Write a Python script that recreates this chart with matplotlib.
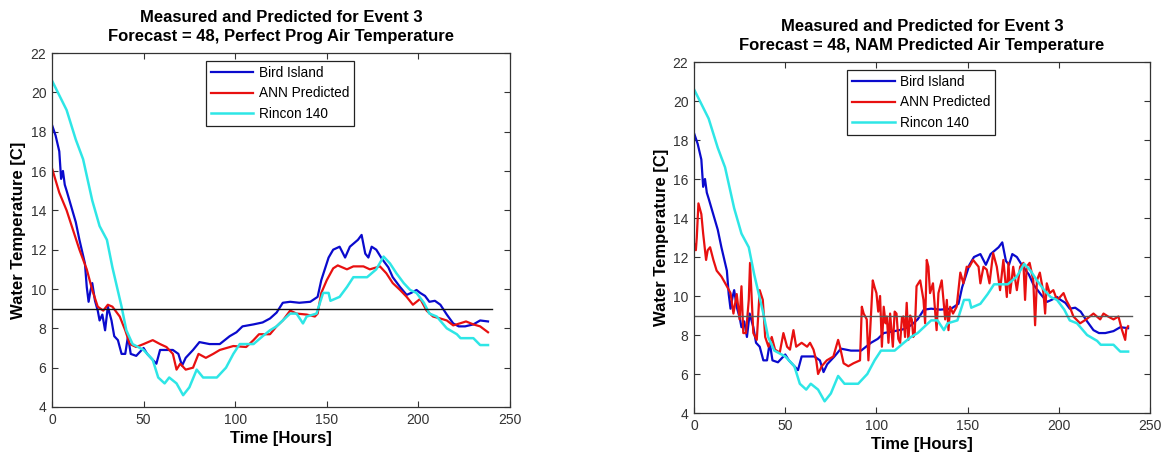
import matplotlib
matplotlib.use("Agg")
import matplotlib.pyplot as plt

plt.rcParams['font.family'] = ['Liberation Sans', 'DejaVu Sans']

# ---- Bird Island (measured) ----
bird_t = [0, 2, 4, 5, 6, 7, 8, 10.5, 13, 15, 18, 19, 20, 21, 22, 23.5, 25, 26, 27.5, 29,
          30.5, 32.5, 34, 36, 38, 40, 41.5, 43, 46, 50, 52, 55, 57, 59, 62.5, 66, 69, 71,
          73, 77, 80.5, 86, 91.6, 97, 100.7, 104, 110, 115, 119, 122.6, 126, 130, 135, 141,
          145, 147, 151, 153.5, 157, 160, 162.6, 167, 169, 171, 172.7, 174.5, 177, 180,
          183.6, 186, 190, 193.6, 196, 199, 201, 203.6, 206, 209, 212, 215.5, 219, 222,
          225.5, 230, 233.7, 238]
bird_v = [18.35, 17.8, 17.0, 15.6, 16.0, 15.3, 15.0, 14.2, 13.4, 12.5, 11.3, 10.1, 9.35,
          9.9, 10.3, 9.4, 8.9, 8.4, 8.7, 7.9, 9.1, 8.4, 7.6, 7.4, 6.7, 6.7, 7.6, 6.7, 6.6,
          7.0, 6.7, 6.4, 6.2, 6.9, 6.9, 6.9, 6.7, 6.1, 6.5, 6.9, 7.3, 7.2, 7.2, 7.6, 7.8,
          8.1, 8.2, 8.3, 8.5, 8.8, 9.3, 9.35, 9.3, 9.35, 9.6, 10.45, 11.6, 12.0, 12.15, 11.6,
          12.15, 12.5, 12.75, 11.8, 11.6, 12.15, 12.0, 11.55, 11.1, 10.6, 10.1, 9.7, 9.8,
          9.95, 9.8, 9.65, 9.35, 9.4, 9.2, 8.7, 8.25, 8.1, 8.1, 8.2, 8.4, 8.35]

# ---- Rincon 140 ----
rincon_t = [0, 8, 13, 17, 22, 26, 30, 33, 38, 40.6, 44, 50, 55, 58, 61.5, 64, 68, 71.6,
            75, 79, 82.5, 90, 95, 99, 102.5, 110, 115, 119, 122.6, 126, 130, 133.5, 137,
            139, 144.4, 148, 151, 152, 157, 161, 164.5, 172, 177, 181, 184.5, 188, 192,
            195.5, 199, 203, 206, 210, 215.5, 221, 223, 230, 233.7, 238]
rincon_v = [20.6, 19.1, 17.6, 16.6, 14.5, 13.2, 12.5, 11.1, 9.1, 7.9, 7.2, 6.9, 6.4, 5.5,
            5.2, 5.5, 5.2, 4.6, 5.0, 5.9, 5.5, 5.5, 6.0, 6.7, 7.2, 7.2, 7.6, 7.9, 8.1, 8.4,
            8.75, 8.75, 8.25, 8.6, 8.75, 9.8, 9.8, 9.4, 9.6, 10.1, 10.6, 10.6, 11.0, 11.65,
            11.3, 10.8, 10.3, 9.95, 9.8, 9.3, 8.75, 8.6, 8.0, 7.7, 7.5, 7.5, 7.15, 7.15]

# ---- ANN predicted, perfect-prog air temperature ----
pp_t = [0, 4, 8, 11.5, 15, 19, 22, 25, 28, 30.5, 33, 37, 40, 42.5, 46, 50, 55, 59, 62.5,
        66, 68, 70, 73, 77, 80, 84, 88, 91.6, 99, 106, 110, 113, 119, 122.6, 126, 130,
        133.5, 139, 143.5, 145, 147, 150, 153.5, 156, 161, 164.5, 170, 173.5, 179, 182.5,
        186, 190, 193.6, 197, 201, 204.5, 208, 212, 215.5, 219, 222.6, 226, 230, 233.7, 238]
pp_v = [16.15, 14.9, 14.0, 13.0, 12.0, 11.0, 9.95, 9.1, 8.9, 9.2, 9.1, 8.6, 7.9, 7.2, 7.05,
        7.2, 7.4, 7.2, 7.05, 6.7, 5.9, 6.2, 5.9, 6.0, 6.7, 6.5, 6.7, 6.9, 7.1, 7.05, 7.4,
        7.7, 7.7, 8.1, 8.4, 8.9, 8.75, 8.7, 8.6, 8.75, 9.8, 10.45, 11.05, 11.2, 11.0, 11.15,
        11.15, 11.0, 11.15, 10.8, 10.3, 9.95, 9.6, 9.2, 9.5, 8.9, 8.6, 8.5, 8.4, 8.15, 8.25,
        8.35, 8.2, 8.1, 7.8]

# ---- ANN predicted, NAM forecast air temperature ----
nam_t = [0, 1, 1.5, 2.4, 4, 5, 6.6, 7.5, 8.8, 10.6, 12.4, 15, 18, 20, 21.6, 23.4, 25, 26,
         27, 28.5, 30, 30.7, 32.5, 34.4, 36, 37.7, 39, 40.8, 42.6, 44.4, 47, 49, 51, 52.6,
         54.5, 56, 59, 62, 63.6, 65.5, 67, 68, 70, 72.8, 76.4, 79, 80, 82, 84.6, 87.4, 91,
         92, 93, 94.7, 95.6, 96.5, 98, 99, 100, 101, 102, 103, 104, 105, 105.7, 106.6,
         107.5, 108.3, 109, 110, 111, 112, 113, 114, 114.8, 115.7, 116.6, 117.5, 118.5,
         119.4, 120.2, 121, 122, 124, 125.8, 126.7, 127.6, 128.5, 129.4, 131, 133, 134,
         135.8, 137.7, 138.6, 139.5, 140.4, 142, 144, 146, 147.7, 149.5, 151, 153, 156, 157,
         158.7, 160.5, 162, 164, 166, 167.8, 169.6, 171.5, 172.4, 173.3, 175, 177, 178.8,
         180.6, 181.5, 182.4, 184, 186, 187, 188, 189.6, 191.6, 192.5, 193.4, 195, 197, 199,
         200.7, 202.6, 204, 206, 208, 211.7, 215, 219, 222.7, 224.5, 227, 230, 232.7, 234.5,
         236.4, 237, 238]
nam_v = [12.7, 12.35, 13.0, 14.75, 14.2, 13.2, 11.85, 12.35, 12.5, 11.85, 11.3, 11.0, 10.5,
         10.15, 9.1, 10.1, 8.8, 10.5, 8.1, 8.1, 9.8, 11.7, 8.1, 7.75, 10.3, 9.8, 7.9, 7.4,
         7.9, 7.25, 7.1, 8.1, 7.4, 7.25, 8.25, 7.4, 7.6, 7.4, 7.6, 7.25, 6.7, 6.0, 6.4, 6.7,
         6.9, 7.75, 7.4, 6.55, 6.4, 6.55, 6.7, 9.45, 9.1, 8.8, 6.7, 8.1, 10.8, 10.45, 10.15,
         9.2, 10.0, 7.4, 9.45, 8.6, 8.95, 7.6, 9.1, 8.2, 7.4, 9.2, 9.1, 7.8, 7.6, 8.9, 8.95,
         7.9, 9.65, 7.75, 9.0, 8.8, 7.9, 8.1, 10.5, 10.8, 9.8, 8.6, 11.85, 11.5, 10.15,
         10.65, 8.25, 10.15, 10.8, 8.8, 9.8, 8.25, 9.45, 9.1, 9.45, 11.2, 10.65, 11.5, 11.5,
         11.85, 11.5, 10.65, 11.5, 11.35, 10.65, 12.2, 11.5, 10.3, 11.85, 9.95, 11.7, 10.15,
         11.5, 10.3, 11.5, 11.7, 9.8, 11.5, 11.7, 10.8, 8.5, 10.8, 11.2, 10.15, 9.1, 10.65,
         10.15, 10.3, 9.8, 9.95, 10.15, 9.8, 9.45, 8.95, 8.6, 8.8, 9.1, 8.8, 9.1, 8.95, 8.8,
         8.95, 8.3, 7.75, 8.3, 8.45]

threshold = 9.0
x_ticks = [0, 50, 100, 150, 200, 250]
y_ticks = [4, 6, 8, 10, 12, 14, 16, 18, 20, 22]

titles = ["Measured and Predicted for Event 3\nForecast = 48, Perfect Prog Air Temperature",
          "Measured and Predicted for Event 3\nForecast = 48, NAM Predicted Air Temperature"]
legend_labels = ["Bird Island", "ANN Predicted", "Rincon 140"]

BLUE = "#0a0acd"
RED = "#e81010"
CYAN = "#2ee6e6"

fig = plt.figure(figsize=(11.7, 4.55), dpi=100)
ax_left = fig.add_axes([0.0444, 0.1055, 0.3915, 0.778])
ax_right = fig.add_axes([0.5932, 0.0923, 0.3897, 0.7714])


def draw_panel(ax, pred_t, pred_v, title, line_color):
    ax.plot(bird_t, bird_v, color=BLUE, lw=1.6, label=legend_labels[0])
    ax.plot(pred_t, pred_v, color=RED, lw=1.6, label=legend_labels[1])
    ax.plot(rincon_t, rincon_v, color=CYAN, lw=1.8, label=legend_labels[2])
    ax.plot([0, 240], [threshold, threshold], color=line_color, lw=1.0)
    ax.set_xlim(0, 250)
    ax.set_ylim(4, 22)
    ax.set_xticks(x_ticks)
    ax.set_yticks(y_ticks)
    ax.tick_params(direction="in", length=4, width=0.8, top=True, right=True,
                   labelsize=10, labelcolor="#333333", pad=4, color="#333333")
    for sp in ax.spines.values():
        sp.set_linewidth(0.9)
        sp.set_color("#333333")
    ax.set_title(title, fontsize=12, fontweight="bold", pad=9, linespacing=1.3)
    ax.set_xlabel("Time [Hours]", fontsize=12, fontweight="bold", labelpad=3)
    ax.set_ylabel("Water Temperature [C]", fontsize=12, fontweight="bold", labelpad=3)
    leg = ax.legend(loc="upper left", bbox_to_anchor=(0.336, 0.978), fontsize=9.8,
                    handlelength=3.15, handletextpad=0.4, labelspacing=0.5,
                    borderpad=0.35, borderaxespad=0, fancybox=False, framealpha=1)
    leg.get_frame().set_edgecolor("#222222")
    leg.get_frame().set_linewidth(0.9)


draw_panel(ax_left, pp_t, pp_v, titles[0], "#111111")
draw_panel(ax_right, nam_t, nam_v, titles[1], "#555555")

fig.savefig("out.png", dpi=100)
